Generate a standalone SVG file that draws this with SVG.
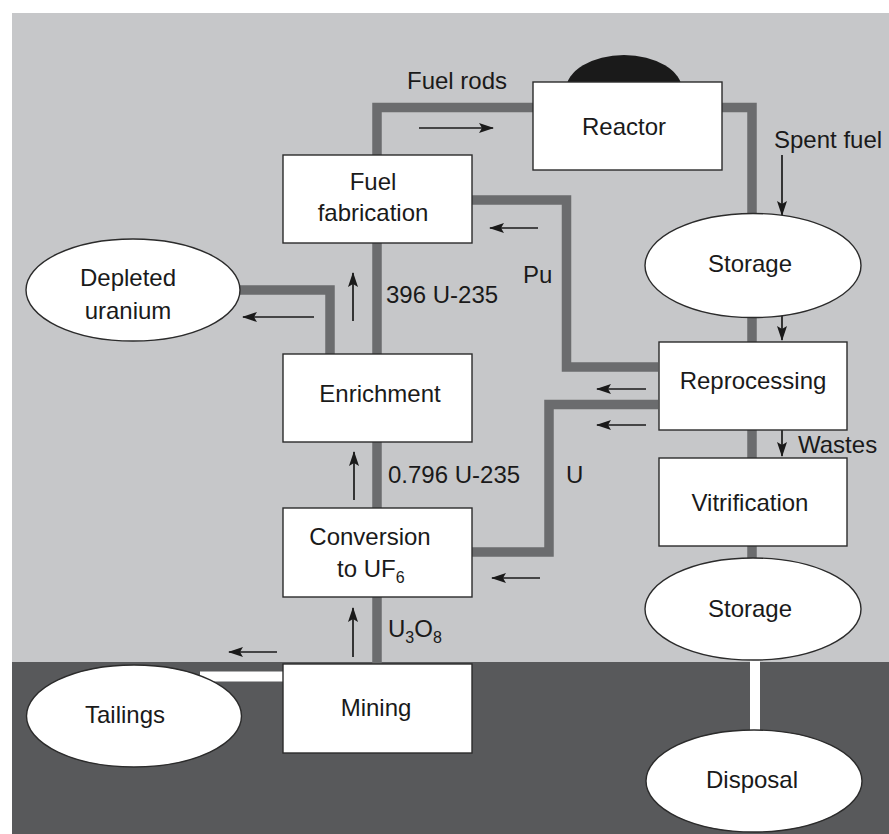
<svg xmlns="http://www.w3.org/2000/svg" width="889" height="834" viewBox="0 0 889 834">
<defs>
<style>
.box{fill:#fff;stroke:#2b2b2b;stroke-width:1.4}
.pipe{fill:none;stroke:#6b6c6e;stroke-width:9.5;stroke-linejoin:miter}
.wpipe{fill:none;stroke:#fff;stroke-width:10}
.arr{stroke:#1a1a1a;stroke-width:1.7;fill:none;marker-end:url(#ah)}
text{font-family:"Liberation Sans",Arial,sans-serif;font-size:24px;fill:#1a1a1a}
.c{text-anchor:middle}
.sub{font-size:16px}
</style>
<marker id="ah" viewBox="0 0 15 10" refX="14" refY="5" markerWidth="15" markerHeight="10" markerUnits="userSpaceOnUse" orient="auto">
<path d="M0,0 L15,5 L0,10 L3,5 Z" fill="#1a1a1a"/>
</marker>
</defs>
<rect x="0" y="0" width="889" height="834" fill="#fff"/>
<rect x="12" y="13" width="877" height="821" fill="#c6c7c9"/>
<rect x="12" y="662" width="877" height="172" fill="#58595b"/>

<g id="connectors">
<path class="pipe" d="M377,664 V107.5 H533"/>
<path class="pipe" d="M722,107.5 H752 V600"/>
<path class="pipe" d="M240,290 H330 V354"/>
<path class="pipe" d="M472,200 H566.5 V367 H658"/>
<path class="pipe" d="M658,404.5 H549 V552 H472"/>
<path class="wpipe" d="M200,676.5 H283"/>
<path class="wpipe" d="M755,650 V740"/>
<line class="arr" x1="419" y1="128" x2="493" y2="128"/>
<line class="arr" x1="538" y1="228" x2="490" y2="228"/>
<line class="arr" x1="353" y1="321" x2="353" y2="273"/>
<line class="arr" x1="314" y1="317" x2="243" y2="317"/>
<line class="arr" x1="354" y1="500" x2="354" y2="452"/>
<line class="arr" x1="353" y1="657" x2="353" y2="608"/>
<line class="arr" x1="277" y1="652" x2="229" y2="652"/>
<line class="arr" x1="646" y1="389" x2="597" y2="389"/>
<line class="arr" x1="646" y1="425" x2="597" y2="425"/>
<line class="arr" x1="540" y1="578" x2="492" y2="578"/>
<line class="arr" x1="782" y1="155" x2="782" y2="215"/>
<line class="arr" x1="782" y1="292" x2="782" y2="340"/>
<line class="arr" x1="782" y1="408" x2="782" y2="456"/>
</g>

<g id="labels">
<text x="407" y="89">Fuel rods</text>
<text x="774" y="148">Spent fuel</text>
<text x="386" y="303">396 U-235</text>
<text x="523" y="283">Pu</text>
<text x="388" y="483">0.796 U-235</text>
<text x="566" y="483">U</text>
<text x="798" y="453">Wastes</text>
<text x="388" y="637">U<tspan class="sub" dy="6">3</tspan><tspan dy="-6">O</tspan><tspan class="sub" dy="6">8</tspan></text>
</g>

<g id="reactor">
<ellipse cx="624" cy="90" rx="58" ry="35" fill="#1a1a1a"/>
<rect class="box" x="533" y="82" width="189" height="88"/>
<text class="c" x="624" y="135">Reactor</text>
</g>
<g id="fuel-fabrication">
<rect class="box" x="283" y="155" width="189" height="88"/>
<text class="c" x="373" y="190">Fuel</text>
<text class="c" x="373" y="221">fabrication</text>
</g>
<g id="depleted-uranium">
<ellipse class="box" cx="133" cy="290" rx="107" ry="51"/>
<text class="c" x="128" y="286">Depleted</text>
<text class="c" x="128" y="319">uranium</text>
</g>
<g id="enrichment">
<rect class="box" x="283" y="354" width="189" height="88"/>
<text class="c" x="380" y="402">Enrichment</text>
</g>
<g id="conversion">
<rect class="box" x="283" y="508" width="189" height="89"/>
<text class="c" x="370" y="545">Conversion</text>
<text x="337" y="577">to UF<tspan class="sub" dy="6">6</tspan></text>
</g>
<g id="mining">
<rect class="box" x="283" y="664" width="189" height="89"/>
<text class="c" x="376" y="716">Mining</text>
</g>
<g id="tailings">
<ellipse class="box" cx="134" cy="716" rx="107.5" ry="51"/>
<text class="c" x="125" y="723">Tailings</text>
</g>
<g id="storage1">
<ellipse class="box" cx="753" cy="265.5" rx="108" ry="52"/>
<text class="c" x="750" y="272">Storage</text>
</g>
<g id="reprocessing">
<rect class="box" x="659" y="342" width="188" height="88"/>
<text class="c" x="753" y="389">Reprocessing</text>
</g>
<g id="vitrification">
<rect class="box" x="659" y="458" width="188" height="88"/>
<text class="c" x="750" y="511">Vitrification</text>
</g>
<g id="storage2">
<ellipse class="box" cx="753" cy="609" rx="108" ry="51"/>
<text class="c" x="750" y="617">Storage</text>
</g>
<g id="disposal">
<ellipse class="box" cx="754" cy="781" rx="108" ry="51"/>
<text class="c" x="752" y="788">Disposal</text>
</g>
</svg>
